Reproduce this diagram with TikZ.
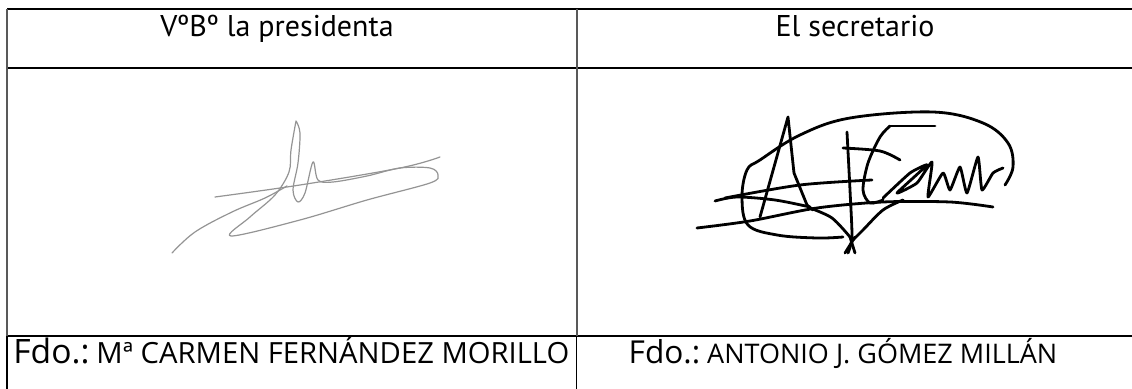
\documentclass[tikz,border=0pt]{standalone}
\usepackage{fontspec}
\setmainfont{Open Sans}
\newfontfamily\headfont{PT Sans}
\begin{document}
\begin{tikzpicture}[x=0.5pt,y=-0.5pt,
  rule/.style={line width=0.65pt},
  vrule/.style={line width=0.75pt,draw=black!65},
  headtxt/.style={font=\headfont\fontsize{15}{18}\selectfont,inner sep=0pt,anchor=base},
  signtxt/.style={inner sep=0pt,anchor=base},
  inka/.style={draw=black!42,line width=0.6pt,line cap=round,line join=round},
  inkb/.style={draw=black,line width=1.4pt,line cap=round,line join=round}]
\useasboundingbox (0,0) rectangle (1132,389);
% table rules
\draw[rule] (7,9) -- (1132,9);
\draw[rule] (7,68) -- (1132,68);
\draw[rule] (7,336) -- (1132,336);
\draw[vrule] (7,9) -- (7,336);
\draw[vrule] (577,9) -- (577,336);
\draw[rule] (7,336) -- (7,389);
\draw[rule] (576.5,336) -- (576.5,389);
% headings
\node[headtxt] (presi) at (277,37) {VºBº la presidenta};
\node[headtxt] (secre) at (855,37) {El secretario};
% names
\node[signtxt,anchor=base west] (fdoA) at (13,364) {{\fontsize{16.8}{18}\selectfont Fdo.:} \fontsize{14.6}{16}\selectfont Mª CARMEN FERNÁNDEZ MORILLO};
\node[signtxt] (fdoB) at (843,364) {{\fontsize{15.8}{18}\selectfont Fdo.:} \fontsize{13.5}{16}\selectfont ANTONIO J. GÓMEZ MILLÁN};
% signature of the presidenta
\draw[inka] plot[smooth,tension=0.6] coordinates {(172,253) (195,232) (232,212) (265,198) (287,186)};
\draw[inka] plot[smooth,tension=0.6] coordinates {(215,197) (300,185) (400,168) (440,157)};
\draw[inka] plot[smooth,tension=0.55] coordinates {(296,121) (291,150) (289,172) (275,195) (250,217) (231,236)
  (300,220) (367,200) (430,183) (438,175) (430,168) (400,168) (367,176) (333,182) (318,180)
  (313,162) (305,193) (298,202) (293,190) (298,163) (300,133) (296,121)};
% signature of the secretario
\draw[inkb] (760,217) -- (788,117) -- (794,173) -- (807,205) -- (813,210);
\draw[inkb] plot[smooth,tension=0.5] coordinates {(715,201) (737,197) (775,200) (810,207)};
\draw[inkb] plot[smooth,tension=0.5] coordinates {(725,198) (800,185) (872,180)};
\draw[inkb] plot[smooth,tension=0.5] coordinates {(697,228) (750,221) (817,208) (883,202) (950,202) (993,207)};
\draw[inkb] plot[smooth,tension=0.6] coordinates {(843,237) (817,238) (777,235) (748,225) (742,197) (747,170)
  (760,160) (800,135) (850,118) (933,112) (983,123) (1008,143) (1013,167) (1005,185)};
\draw[inkb] plot[smooth,tension=0.4] coordinates {(847,132) (850,190) (852,237) (848,253)};
\draw[inkb] (845,253) -- (855,237);
\draw[inkb] (855,253) -- (850,237);
\draw[inkb] plot[smooth,tension=0.5] coordinates {(843,148) (880,151) (900,160)};
\draw[inkb] (935,126) -- (890,126);
\draw[inkb] plot[smooth,tension=0.5] coordinates {(890,126) (880,137) (868,163) (863,190) (870,203) (883,200)};
\draw[inkb] plot[smooth,tension=0.5] coordinates {(810,208) (832,218) (850,237)};
\draw[inkb] plot[smooth,tension=0.5] coordinates {(903,200) (883,210) (863,230) (853,240)};
\draw[inkb] plot[smooth,tension=0.3] coordinates {(883,198) (910,173) (927,165) (897,193) (917,183) (932,162)
  (928,197) (943,173) (950,190) (960,167) (967,193) (978,157) (982,190) (993,173) (1003,168)};
\end{tikzpicture}
\end{document}
